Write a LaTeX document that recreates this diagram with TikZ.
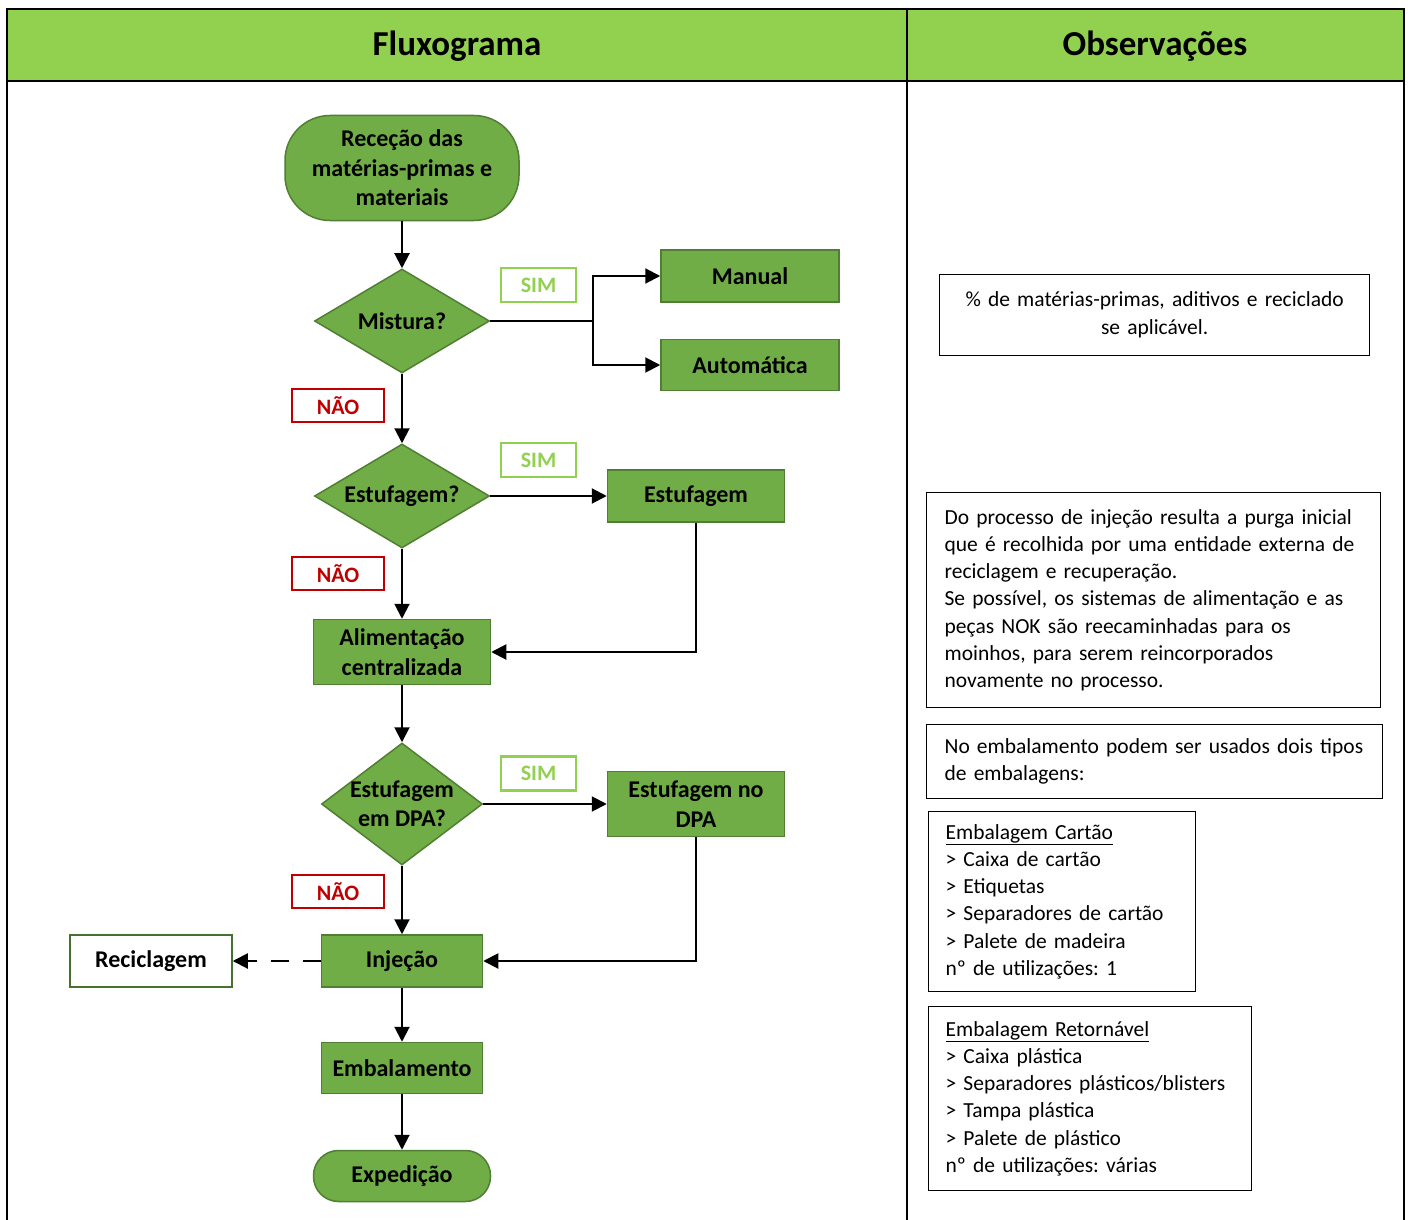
\documentclass[tikz,border=0pt]{standalone}
\usepackage{fontspec}
\setmainfont{Carlito}
\frenchspacing
\usepackage{tikz}
\usetikzlibrary{shapes.geometric,arrows.meta,positioning}

\definecolor{headgreen}{HTML}{92D050}
\definecolor{boxgreen}{HTML}{70AD47}
\definecolor{edgegreen}{HTML}{507E32}
\definecolor{simgreen}{HTML}{92D050}
\definecolor{naored}{HTML}{C00000}

\begin{document}
\begin{tikzpicture}[x=1pt,y=-1pt,
    proc/.style={rectangle,fill=boxgreen,draw=edgegreen,line width=1.5pt,align=center,
      inner sep=0pt,font=\bfseries\fontsize{24}{29.5}\selectfont},
    term/.style={proc,rounded corners=#1},
    decision/.style={diamond,fill=boxgreen,draw=edgegreen,line width=1.5pt,inner sep=0pt},
    dtext/.style={align=center,font=\bfseries\fontsize{24}{29}\selectfont},
    simbox/.style={draw=simgreen,line width=2.5pt,text=simgreen,minimum width=75,minimum height=34,
      inner sep=0pt,font=\bfseries\fontsize{22}{24}\selectfont},
    naobox/.style={draw=naored,line width=2.5pt,text=naored,minimum width=92,minimum height=33,
      inner sep=0pt,font=\bfseries\fontsize{22}{24}\selectfont},
    obs/.style={draw,line width=1.2pt,anchor=north west,align=left,inner xsep=18pt,inner ysep=0pt,
      font=\fontsize{21.5}{27.2}\selectfont},
    flow/.style={line width=2pt,-{Triangle[length=15pt,width=15pt]}},
    link/.style={line width=2pt}]
    \useasboundingbox (0,0) rectangle (1408,1220);

    % Header
    \fill[headgreen] (7,9) rectangle (1404,81);
    \draw[line width=2pt] (7,1220) -- (7,9) -- (1404,9) -- (1404,1220);
    \draw[line width=2pt] (7,81) -- (1404,81);
    \draw[line width=2pt] (907,9) -- (907,1220);
    \node[font=\bfseries\fontsize{35}{40}\selectfont] (hflux) at (457,46.5) {Fluxograma};
    \node[font=\bfseries\fontsize{35}{40}\selectfont] (hobs) at (1155,46.5) {Observações};

    % Flowchart nodes
    \node[term=45pt,minimum width=234,minimum height=105] (rec) at (402,168)
      {Receção das\\matérias-primas e\\materiais};
    \node[decision,minimum width=175,minimum height=104,label={[dtext]center:Mistura?}] (mix) at (402,321) {};
    \node[proc,minimum width=178,minimum height=52] (manual) at (750,276) {Manual};
    \node[proc,minimum width=178,minimum height=51] (auto) at (750,365) {Automática};
    \node[decision,minimum width=175,minimum height=104,label={[dtext]center:Estufagem?}] (est) at (402,496) {};
    \node[proc,minimum width=177,minimum height=52] (estbox) at (696,496) {Estufagem};
    \node[proc,minimum width=177,minimum height=65] (alim) at (402,652) {Alimentação\\centralizada};
    \node[decision,minimum width=161,minimum height=122,label={[dtext]center:Estufagem\\em DPA?}] (dpa) at (402,804) {};
    \node[proc,minimum width=177,minimum height=65] (dpabox) at (696,804) {Estufagem no\\DPA};
    \node[proc,minimum width=161,minimum height=52] (inj) at (402,961) {Injeção};
    \node[proc,fill=white,draw=edgegreen!90!black,minimum width=162,minimum height=52] (recic) at (151,961) {Reciclagem};
    \node[proc,minimum width=161,minimum height=51] (emb) at (402,1068) {Embalamento};
    \node[term=25pt,minimum width=177,minimum height=51] (exped) at (402,1176) {Expedição};

    % Answers
    \node[simbox] (sim1) at (538.5,285) {SIM};
    \node[simbox] (sim2) at (538.5,460) {SIM};
    \node[simbox] (sim3) at (538.5,773.5) {SIM};
    \node[naobox] (nao1) at (338,405.5) {NÃO};
    \node[naobox] (nao2) at (338,573.5) {NÃO};
    \node[naobox] (nao3) at (338,891.5) {NÃO};

    % Connectors
    \coordinate (split) at (593,321);
    \draw[flow] (rec) -- (mix);
    \draw[link] (mix.east) -- (split);
    \draw[flow] (split) |- (manual.west);
    \draw[flow] (split) |- (auto.west);
    \draw[flow] (mix) -- (est);
    \draw[flow] (est.east) -- (estbox.west);
    \draw[flow] (est) -- (alim);
    \draw[flow] (estbox.south) |- (alim.east);
    \draw[flow] (alim) -- (dpa);
    \draw[flow] (dpa.east) -- (dpabox.west);
    \draw[flow] (dpa) -- (inj);
    \draw[flow] (dpabox.south) |- (inj.east);
    \draw[flow,dash pattern=on 18pt off 14pt] (inj.west) -- (recic.east);
    \draw[flow] (inj) -- (emb);
    \draw[flow] (emb) -- (exped);

    % Observations
    \node[obs,align=center,inner xsep=0pt,text width=430,minimum height=81] (obs1) at (939,274)
      {\% de matérias-primas, aditivos e reciclado\\[1pt]se aplicável.};
    \node[obs,text width=418,minimum height=215] (obs2) at (926,492)
      {Do processo de injeção resulta a purga inicial\\
       que é recolhida por uma entidade externa de\\
       reciclagem e recuperação.\\
       Se possível, os sistemas de alimentação e as\\
       peças NOK são reecaminhadas para os\\
       moinhos, para serem reincorporados\\
       novamente no processo.};
    \node[obs,text width=420,minimum height=74] (obs3) at (926,724)
      {No embalamento podem ser usados dois tipos\\de embalagens:};
    \node[obs,inner xsep=17pt,text width=233,minimum height=180] (obs4) at (928,811)
      {\underline{Embalagem Cartão}\\
       > Caixa de cartão\\
       > Etiquetas\\
       > Separadores de cartão\\
       > Palete de madeira\\
       nº de utilizações: 1};
    \node[obs,inner xsep=17pt,text width=289,minimum height=184] (obs5) at (928,1006)
      {\underline{Embalagem Retornável}\\
       > Caixa plástica\\
       > Separadores plásticos/blisters\\
       > Tampa plástica\\
       > Palete de plástico\\
       nº de utilizações: várias};
\end{tikzpicture}
\end{document}
